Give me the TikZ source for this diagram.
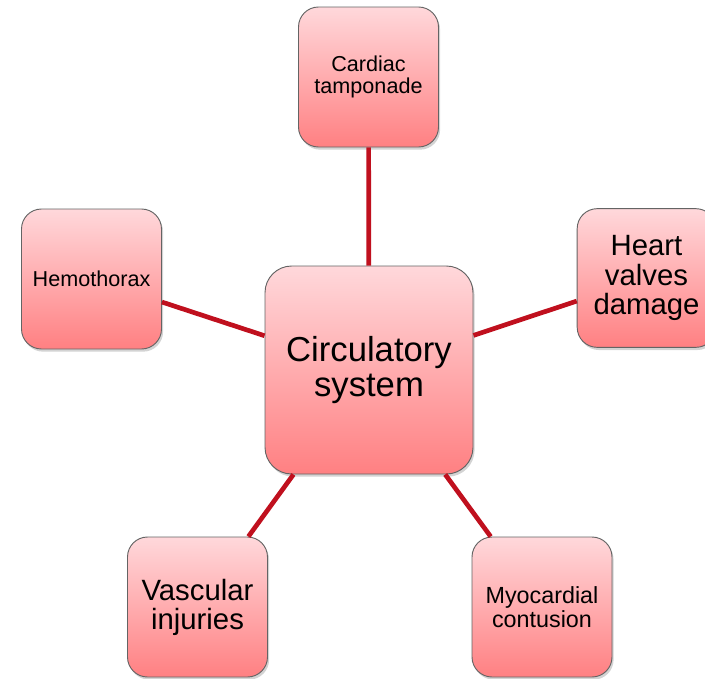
\documentclass[tikz,border=0pt]{standalone}
\usepackage{fontspec}
\setmainfont{Liberation Sans}
\usetikzlibrary{shadows}
\definecolor{boxtop}{RGB}{255,216,219}
\definecolor{boxbot}{RGB}{255,128,130}
\definecolor{boxline}{RGB}{100,100,100}
\definecolor{linkred}{RGB}{192,16,30}
\tikzset{
  box/.style={draw=boxline, line width=0.7pt, top color=boxtop, bottom color=boxbot,
    rounded corners=15pt, align=center, inner sep=2pt,
    drop shadow={opacity=0.35, shadow xshift=1.2pt, shadow yshift=-2pt}},
  smallbox/.style={box, minimum width=105pt, minimum height=105pt,
    font=\fontsize{16.2}{16.8}\selectfont},
  midbox/.style={box, minimum width=104pt, minimum height=104pt,
    font=\fontsize{22}{21.8}\selectfont},
  bigbox/.style={box, rounded corners=20pt, minimum width=156pt, minimum height=156pt,
    font=\fontsize{26}{26.5}\selectfont},
  link/.style={draw=linkred, line width=3.5pt}
}
\begin{document}
\begin{tikzpicture}[x=0.75pt,y=-0.75pt]
\useasboundingbox (0,0) rectangle (705,678);
\node[bigbox] (c) at (369,370) {Circulatory\\system};
\node[smallbox] (t) at (368.5,77) {Cardiac\\tamponade};
\node[smallbox] (h) at (91.5,279) {Hemothorax};
\node[midbox] (v) at (646.5,278) {Heart\\valves\\damage};
\node[midbox, minimum width=105pt, minimum height=105pt] (vi) at (197.5,607) {Vascular\\injuries};
\node[smallbox, font=\fontsize{17.5}{17.5}\selectfont] (m) at (542,607) {Myocardial\\contusion};
\draw[link] (c) -- (t);
\draw[link] (c) -- (h);
\draw[link] (c) -- (v);
\draw[link] (c) -- (vi);
\draw[link] (c) -- (m);
\end{tikzpicture}
\end{document}
